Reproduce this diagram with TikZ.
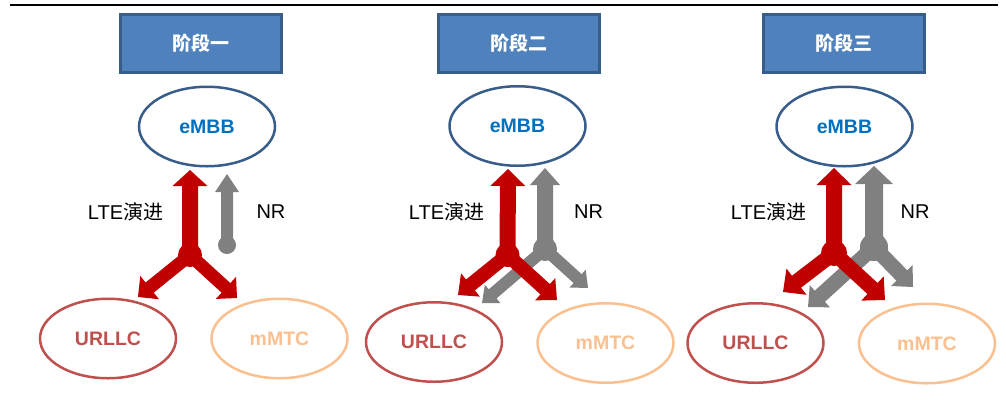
\documentclass[tikz,border=0pt]{standalone}
\usepackage{fontspec}
\setmainfont{Liberation Sans}
\newfontfamily\cjk{Noto Sans CJK SC}
\usetikzlibrary{shapes.geometric,calc}

\definecolor{boxfill}{HTML}{4F81BD}
\definecolor{boxline}{HTML}{385D8A}
\definecolor{embbtext}{HTML}{0070C0}
\definecolor{urllccol}{HTML}{C0504D}
\definecolor{mmtccol}{HTML}{FAC090}
\definecolor{ltecol}{HTML}{C00000}
\definecolor{nrcol}{HTML}{808080}

% Block arrow: #1 colour, #2 start, #3 tip, #4 half shaft width,
% #5 half head width, #6 head length
\newcommand\fatarrow[6]{%
  \coordinate (fa-h) at ($(#3)!#6!(#2)$);
  \fill[#1] ($(#2)!#4!90:(#3)$) -- ($(fa-h)!#4!90:(#3)$) -- ($(fa-h)!#5!90:(#3)$)
    -- (#3) -- ($(fa-h)!#5!-90:(#3)$) -- ($(fa-h)!#4!-90:(#3)$)
    -- ($(#2)!#4!-90:(#3)$) -- cycle;
}

\begin{document}
\begin{tikzpicture}[x=1pt,y=-1pt,
  stagebox/.style={draw=boxline, fill=boxfill, line width=3pt,
    minimum width=161pt, minimum height=58pt, inner sep=0pt,
    text=white, font=\cjk\bfseries\fontsize{19}{23}\selectfont},
  svc/.style={ellipse, line width=2.5pt, minimum width=136pt,
    minimum height=79.5pt, inner sep=0pt, fill=white,
    font=\bfseries\fontsize{19.5}{23}\selectfont},
  embb/.style={svc, draw=boxline, text=embbtext},
  urllc/.style={svc, draw=urllccol, text=urllccol},
  mmtc/.style={svc, draw=mmtccol, text=mmtccol},
  path/.style={font=\fontsize{20}{24}\selectfont, inner sep=0pt},
  ltedot/.style={circle, fill=ltecol, inner sep=0pt},
  nrdot/.style={circle, fill=nrcol, inner sep=0pt}]

\useasboundingbox (0,0) rectangle (1006,416);

% header rule
\coordinate (ruleL) at (10,5);
\coordinate (ruleR) at (998,5);
\draw[line width=2.2pt] (ruleL) -- (ruleR);

% ---------------- stage one ----------------
\node[stagebox] (s1) at (201,43.5) {阶段一};
\node[embb] (e1) at (207,126.5) {eMBB};
\node[urllc] (u1) at (108,338.5) {URLLC};
\node[mmtc] (m1) at (279.5,338.5) {mMTC};
\node[path] (l1) at (125.5,212) {LTE{\cjk 演进}};
\node[path] (n1) at (271,212) {NR};

\node[nrdot, minimum size=18pt] (g1) at (227,245) {};
\coordinate (g1u) at (227,174);
\fatarrow{nrcol}{g1.center}{g1u}{6pt}{12pt}{18pt}

\node[ltedot, minimum size=24pt] (r1) at (190,255) {};
\coordinate (r1u) at (190,170);
\coordinate (r1l) at (138,297);
\coordinate (r1r) at (237,298);
\fatarrow{ltecol}{r1.center}{r1u}{8pt}{17.5pt}{16pt}
\fatarrow{ltecol}{r1.center}{r1l}{6.5pt}{15pt}{15pt}
\fatarrow{ltecol}{r1.center}{r1r}{6.5pt}{15pt}{15pt}

% ---------------- stage two ----------------
\node[stagebox] (s2) at (518.5,43.5) {阶段二};
\node[embb] (e2) at (517.5,126) {eMBB};
\node[urllc] (u2) at (434,342) {URLLC};
\node[mmtc] (m2) at (605.5,343) {mMTC};
\node[path] (l2) at (446.5,212) {LTE{\cjk 演进}};
\node[path] (n2) at (588.5,212) {NR};

\node[nrdot, minimum size=24pt] (g2) at (545,249) {};
\coordinate (g2u) at (545,168);
\coordinate (g2l) at (482,303);
\coordinate (g2r) at (588,288);
\fatarrow{nrcol}{g2.center}{g2u}{8pt}{15pt}{17pt}
\fatarrow{nrcol}{g2.center}{g2l}{6pt}{12pt}{14pt}
\fatarrow{nrcol}{g2.center}{g2r}{6pt}{12pt}{14pt}

\node[ltedot, minimum size=24pt] (r2) at (507.5,255) {};
\coordinate (r2u) at (508,169);
\coordinate (r2l) at (458,295);
\coordinate (r2r) at (557,300);
\fatarrow{ltecol}{r2.center}{r2u}{8pt}{17.5pt}{17pt}
\fatarrow{ltecol}{r2.center}{r2l}{7pt}{15pt}{16pt}
\fatarrow{ltecol}{r2.center}{r2r}{7pt}{15pt}{16pt}

% ---------------- stage three ----------------
\node[stagebox] (s3) at (844,43.5) {阶段三};
\node[embb] (e3) at (844.5,126.5) {eMBB};
\node[urllc] (u3) at (755.5,343) {URLLC};
\node[mmtc] (m3) at (927,343.5) {mMTC};
\node[path] (l3) at (768.5,212) {LTE{\cjk 演进}};
\node[path] (n3) at (915,212) {NR};

\node[nrdot, minimum size=28pt] (g3) at (874,247) {};
\coordinate (g3u) at (874,166);
\coordinate (g3l) at (808,307);
\coordinate (g3r) at (913,287);
\fatarrow{nrcol}{g3.center}{g3u}{9pt}{19pt}{18pt}
\fatarrow{nrcol}{g3.center}{g3l}{7.5pt}{15pt}{16pt}
\fatarrow{nrcol}{g3.center}{g3r}{7.5pt}{15pt}{16pt}

\node[ltedot, minimum size=26pt] (r3) at (834,253) {};
\coordinate (r3u) at (834,168);
\coordinate (r3l) at (783,292);
\coordinate (r3r) at (885,300);
\fatarrow{ltecol}{r3.center}{r3u}{8pt}{17.5pt}{17pt}
\fatarrow{ltecol}{r3.center}{r3l}{7.5pt}{16.5pt}{17pt}
\fatarrow{ltecol}{r3.center}{r3r}{7.5pt}{16.5pt}{17pt}

\end{tikzpicture}
\end{document}
